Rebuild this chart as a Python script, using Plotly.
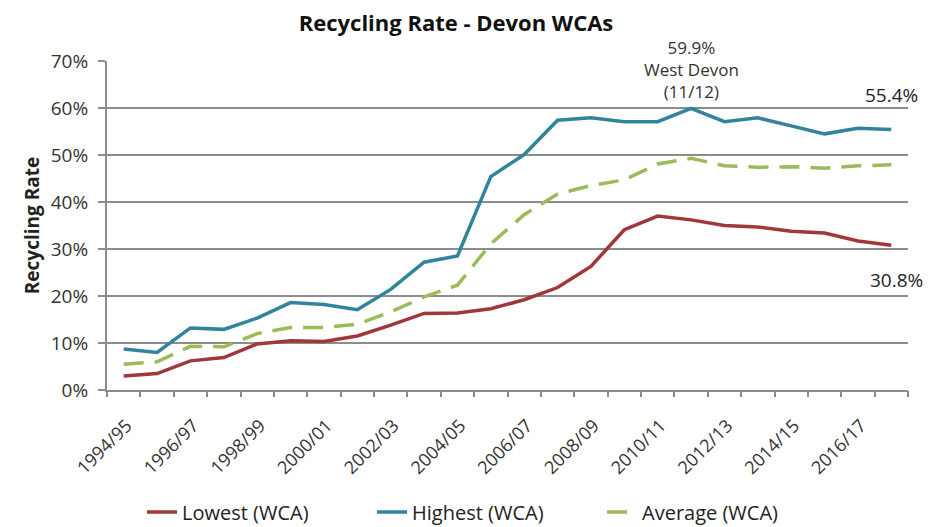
import plotly.graph_objects as go

# Financial years on the x axis
years = [
    "1994/95", "1995/96", "1996/97", "1997/98", "1998/99", "1999/00",
    "2000/01", "2001/02", "2002/03", "2003/04", "2004/05", "2005/06",
    "2006/07", "2007/08", "2008/09", "2009/10", "2010/11", "2011/12",
    "2012/13", "2013/14", "2014/15", "2015/16", "2016/17", "2017/18",
]

# Recycling rates (fractions)
lowest = [
    0.030, 0.035, 0.062, 0.069, 0.098, 0.105, 0.103, 0.115, 0.138, 0.163,
    0.164, 0.173, 0.192, 0.218, 0.263, 0.341, 0.370, 0.362, 0.350, 0.347,
    0.338, 0.334, 0.317, 0.308,
]
highest = [
    0.087, 0.080, 0.132, 0.129, 0.153, 0.186, 0.182, 0.171, 0.214, 0.272,
    0.285, 0.454, 0.501, 0.574, 0.579, 0.571, 0.571, 0.599, 0.571, 0.579,
    0.562, 0.545, 0.557, 0.554,
]
average = [
    0.055, 0.060, 0.093, 0.092, 0.120, 0.133, 0.133, 0.140, 0.166, 0.198,
    0.223, 0.311, 0.373, 0.417, 0.435, 0.447, 0.481, 0.493, 0.477, 0.474,
    0.475, 0.472, 0.477, 0.479,
]

label_years = years[::2]
y_ticks = [0, 0.1, 0.2, 0.3, 0.4, 0.5, 0.6, 0.7]

font = "Open Sans, Liberation Sans, sans-serif"
grey = "#8c8c8c"

fig = go.Figure()
fig.add_trace(go.Scatter(x=years, y=lowest, name="Lowest (WCA)", mode="lines",
                         line=dict(color="#a0373a", width=3.5)))
fig.add_trace(go.Scatter(x=years, y=highest, name="Highest (WCA)", mode="lines",
                         line=dict(color="#31849b", width=3.5)))
fig.add_trace(go.Scatter(x=years, y=average, name="Average (WCA)", mode="lines",
                         line=dict(color="#9bbb59", width=3.5, dash="20px,11px")))
# invisible trace so the boundary tick axis gets drawn
fig.add_trace(go.Scatter(x=[0], y=[0], xaxis="x2", mode="markers",
                         marker=dict(opacity=0), showlegend=False, hoverinfo="skip"))

fig.add_annotation(x="2011/12", y=0.681, text="59.9%<br>West Devon<br>(11/12)",
                   showarrow=False, font=dict(size=17, color="#333333"), yanchor="middle")
fig.add_annotation(x="2017/18", y=0.628, text="55.4%", showarrow=False,
                   font=dict(size=19, color="#222222"))
fig.add_annotation(x="2017/18", y=0.233, text="30.8%", showarrow=False, xshift=5,
                   font=dict(size=19, color="#222222"))

# margins allow for the 8px page margin of the html body
fig.update_layout(
    width=940, height=527,
    margin=dict(l=99, r=40, t=53, b=145),
    paper_bgcolor="white", plot_bgcolor="white",
    font=dict(family=font, color="#222222"),
    title=dict(text="<b>Recycling Rate - Devon WCAs</b>", x=0.4766, xanchor="center",
               y=0.9715, yanchor="middle", font=dict(size=22, color="#111111")),
    showlegend=True,
    legend=dict(orientation="h", xref="container", yref="container",
                x=0.5096, xanchor="center", y=0.0436, yanchor="middle",
                font=dict(size=20), entrywidth=185, tracegroupgap=0),
    xaxis=dict(type="category", tickmode="array", tickvals=label_years,
               ticktext=label_years, tickangle=-45, ticks="", showgrid=False,
               showline=True, linecolor=grey, linewidth=2,
               ticklabelstandoff=16, ticklabelshift=3,
               tickfont=dict(size=18, color="#333333"), range=[-0.5, 23.5]),
    xaxis2=dict(overlaying="x", range=[-0.5, 23.5], tickmode="linear", tick0=-0.5,
                dtick=1, ticks="outside", ticklen=6, tickcolor=grey, tickwidth=1.5,
                showticklabels=False, showgrid=False, showline=False, zeroline=False,
                side="bottom"),
    yaxis=dict(range=[0, 0.7], tickvals=y_ticks, tickformat=".0%",
               showgrid=True, gridcolor=grey, gridwidth=1.5,
               showline=True, linecolor=grey, linewidth=2,
               ticks="outside", ticklen=7, tickcolor=grey, tickwidth=1.5,
               ticklabelstandoff=6,
               zeroline=False, tickfont=dict(size=19, color="#333333"),
               title=dict(text="<b>Recycling Rate</b>", font=dict(size=19), standoff=6)),
)

fig.write_html("out.html")
